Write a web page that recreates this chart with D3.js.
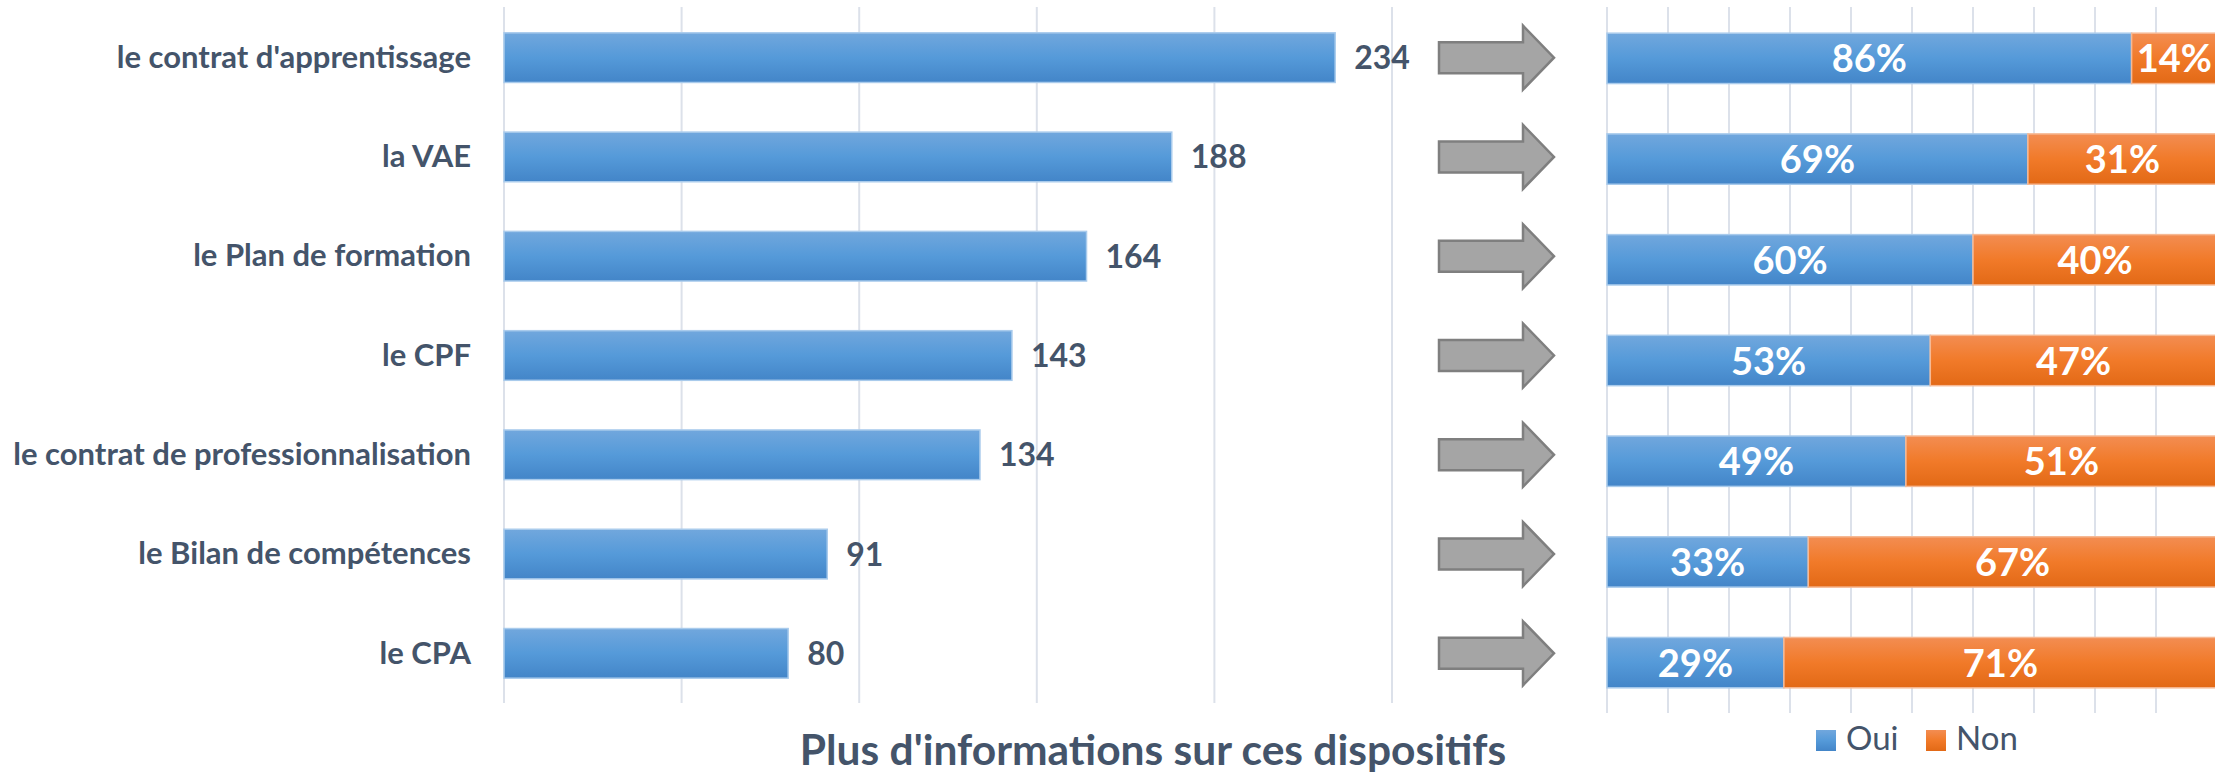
<!DOCTYPE html>
<html>
<head>
<meta charset="utf-8">
<script src="https://cdn.jsdelivr.net/npm/d3@7/dist/d3.min.js"></script>
<style>
  html, body { margin: 0; padding: 0; background: #fff; }
  svg { display: block; }
  text { font-family: Lato, "Open Sans", sans-serif; }
</style>
</head>
<body>
<svg id="chart" width="2215" height="778"></svg>
<script>
// Dispositifs de formation : nombre de personnes souhaitant plus d'informations,
// puis répartition Oui / Non pour chaque dispositif.
const categories = [
  "le contrat d'apprentissage",
  "la VAE",
  "le Plan de formation",
  "le CPF",
  "le contrat de professionnalisation",
  "le Bilan de compétences",
  "le CPA"
];
const counts = [234, 188, 164, 143, 134, 91, 80];
const ouiPct = [86, 69, 60, 53, 49, 33, 29];
const nonPct = [14, 31, 40, 47, 51, 67, 71];
const countTicks = [0, 50, 100, 150, 200, 250];
const pctTicks = [0, 10, 20, 30, 40, 50, 60, 70, 80, 90, 100];
const seriesNames = ["Oui", "Non"];
const title = "Plus d'informations sur ces dispositifs";

const textColor = "#44546A";
const gridColor = "#DCE1EA";

const svg = d3.select("#chart");
const defs = svg.append("defs");

function gradient(id, stops) {
  const g = defs.append("linearGradient").attr("id", id)
    .attr("x1", 0).attr("y1", 0).attr("x2", 0).attr("y2", 1);
  stops.forEach(([o, c]) => g.append("stop").attr("offset", o).attr("stop-color", c));
}
gradient("gBlue", [[0, "#71A7DD"], [0.5, "#559AD9"], [1, "#4385C8"]]);
gradient("gOrange", [[0, "#F38D52"], [0.5, "#F17A29"], [1, "#E26916"]]);

// ---- Left panel: counts ----
const xL = d3.scaleLinear().domain([0, 250]).range([504, 1392]);
const yL = d3.scaleBand().domain(categories).range([8, 703]).paddingInner(0.5).paddingOuter(0.25);

const left = svg.append("g");
left.append("g").selectAll("line").data(countTicks).join("line")
  .attr("x1", d => xL(d)).attr("x2", d => xL(d))
  .attr("y1", 7).attr("y2", 703)
  .attr("stroke", gridColor).attr("stroke-width", 2);

left.append("g").selectAll("rect").data(categories).join("rect")
  .attr("x", xL(0))
  .attr("y", d => yL(d))
  .attr("width", (d, i) => xL(counts[i]) - xL(0))
  .attr("height", yL.bandwidth())
  .attr("fill", "url(#gBlue)")
  .attr("stroke", "#A9CBEC").attr("stroke-width", 1.5);

left.append("g").selectAll("text").data(categories).join("text")
  .attr("x", xL(0) - 33)
  .attr("y", d => yL(d) + yL.bandwidth() / 2)
  .attr("dy", "0.33em")
  .attr("text-anchor", "end")
  .attr("font-size", 31).attr("font-weight", 700)
  .attr("fill", textColor)
  .text(d => d);

left.append("g").selectAll("text").data(categories).join("text")
  .attr("x", (d, i) => xL(counts[i]) + 19)
  .attr("y", d => yL(d) + yL.bandwidth() / 2)
  .attr("dy", "0.36em")
  .attr("font-size", 32).attr("font-weight", 700)
  .attr("fill", textColor)
  .text((d, i) => counts[i]);

// ---- Arrows between the panels ----
const arrow = (c) => {
  const x0 = 1439, xh = 1523, xt = 1554, bh = 15.5, hh = 32;
  return `M${x0},${c - bh}L${xh},${c - bh}L${xh},${c - hh}L${xt},${c}L${xh},${c + hh}L${xh},${c + bh}L${x0},${c + bh}Z`;
};
svg.append("g").selectAll("path").data(categories).join("path")
  .attr("d", d => arrow(yL(d) + yL.bandwidth() / 2))
  .attr("fill", "#A5A5A5").attr("stroke", "#7F7F7F").attr("stroke-width", 2.5)
  .attr("stroke-linejoin", "miter");

// ---- Right panel: Oui / Non split ----
const xR = d3.scaleLinear().domain([0, 100]).range([1607, 2217]);
const yR = d3.scaleBand().domain(categories).range([8, 713]).paddingInner(0.5).paddingOuter(0.25);

const right = svg.append("g");
right.append("g").selectAll("line").data(pctTicks).join("line")
  .attr("x1", d => xR(d)).attr("x2", d => xR(d))
  .attr("y1", 7).attr("y2", 713)
  .attr("stroke", gridColor).attr("stroke-width", 2);

const segs = [];
categories.forEach((c, i) => {
  segs.push({ cat: c, s: 0, x0: 0, x1: ouiPct[i], v: ouiPct[i] });
  segs.push({ cat: c, s: 1, x0: ouiPct[i], x1: ouiPct[i] + nonPct[i], v: nonPct[i] });
});

right.append("g").selectAll("rect").data(segs).join("rect")
  .attr("x", d => xR(d.x0))
  .attr("y", d => yR(d.cat))
  .attr("width", d => xR(d.x1) - xR(d.x0))
  .attr("height", yR.bandwidth())
  .attr("fill", d => d.s === 0 ? "url(#gBlue)" : "url(#gOrange)")
  .attr("stroke", d => d.s === 0 ? "#A9CBEC" : "#F6B994").attr("stroke-width", 1.5);

right.append("g").selectAll("text").data(segs).join("text")
  .attr("x", d => (xR(d.x0) + xR(d.x1)) / 2)
  .attr("y", d => yR(d.cat) + yR.bandwidth() / 2)
  .attr("dy", "0.37em")
  .attr("text-anchor", "middle")
  .attr("font-size", 38).attr("font-weight", 700)
  .attr("fill", "#fff")
  .text(d => d.v + "%");

// ---- Title ----
svg.append("text")
  .attr("x", 1153).attr("y", 765)
  .attr("text-anchor", "middle")
  .attr("font-size", 42.5).attr("font-weight", 700)
  .attr("fill", textColor)
  .text(title);

// ---- Legend ----
const legendX = [1816, 1926];
const legend = svg.append("g").selectAll("g").data(seriesNames).join("g")
  .attr("transform", (d, i) => `translate(${legendX[i]},730)`);
legend.append("rect")
  .attr("width", 20).attr("height", 21)
  .attr("fill", (d, i) => i === 0 ? "url(#gBlue)" : "url(#gOrange)");
legend.append("text")
  .attr("x", 30).attr("y", 20)
  .attr("font-size", 33)
  .attr("fill", textColor)
  .text(d => d);
</script>
</body>
</html>
